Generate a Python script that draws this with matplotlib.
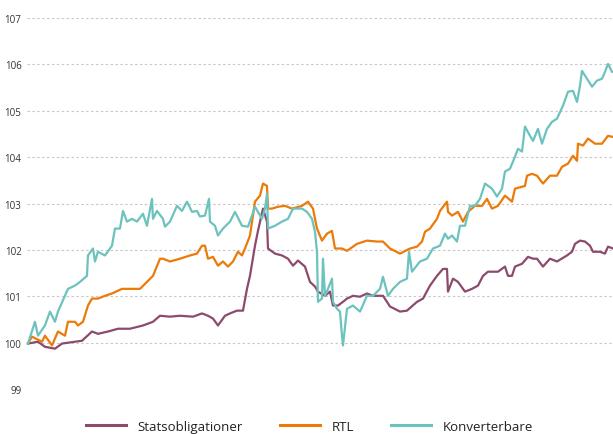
import matplotlib.pyplot as plt
import numpy as np

# trading day index and index level (start = 100)
stat_day = [0, 10, 17, 27, 34, 47, 54, 64, 70, 80, 90, 97, 102, 115, 125, 132, 142, 152, 165, 174,
            180, 185, 190, 197, 202, 209, 215, 219, 222, 227, 230, 235, 239, 240, 247, 254, 260, 265,
            270, 277, 282, 287, 290, 297, 302, 305, 310, 315, 319, 325, 332, 339, 345, 355, 362, 372,
            379, 389, 395, 402, 409, 415, 419, 420, 425, 430, 437, 444, 450, 455, 460, 470, 477, 480,
            484, 487, 494, 500, 505, 509, 515, 522, 529, 539, 544, 547, 552, 557, 562, 565, 572, 577,
            580, 585]
stat_val = [99.98, 100.02, 99.91, 99.87, 99.98, 100.02, 100.04, 100.24, 100.19, 100.24, 100.30, 100.30,
            100.30, 100.37, 100.45, 100.58, 100.56, 100.58, 100.56, 100.63, 100.58, 100.52, 100.37,
            100.58, 100.63, 100.69, 100.69, 101.16, 101.44, 102.09, 102.41, 102.89, 102.61, 102.03,
            101.92, 101.88, 101.81, 101.66, 101.77, 101.64, 101.31, 101.21, 101.10, 101.01, 101.10,
            100.80, 100.80, 100.88, 100.95, 101.01, 100.99, 101.06, 101.01, 101.01, 100.78, 100.67,
            100.69, 100.88, 100.95, 101.23, 101.44, 101.59, 101.59, 101.10, 101.38, 101.31, 101.10,
            101.16, 101.23, 101.44, 101.53, 101.53, 101.64, 101.44, 101.44, 101.64, 101.70, 101.85,
            101.81, 101.81, 101.64, 101.81, 101.75, 101.88, 101.96, 102.13, 102.20, 102.18, 102.09,
            101.96, 101.96, 101.92, 102.07, 102.03]

rtl_day = [0, 4, 14, 17, 24, 30, 37, 40, 47, 50, 55, 60, 64, 70, 77, 84, 94, 104, 112, 119, 125, 132,
           135, 142, 152, 162, 169, 174, 177, 180, 185, 190, 195, 200, 205, 210, 214, 217, 222, 227,
           232, 235, 239, 240, 244, 250, 257, 264, 274, 280, 285, 289, 294, 299, 304, 307, 314, 319,
           329, 339, 349, 355, 362, 372, 382, 389, 394, 397, 402, 409, 412, 419, 420, 424, 430, 435,
           440, 447, 454, 459, 464, 470, 477, 484, 487, 497, 499, 504, 509, 515, 522, 529, 534, 540,
           545, 549, 550, 555, 560, 567, 574, 580, 584]
rtl_val = [99.98, 100.13, 100.02, 100.15, 99.94, 100.24, 100.15, 100.45, 100.45, 100.37, 100.45,
           100.80, 100.95, 100.95, 101.01, 101.06, 101.16, 101.16, 101.16, 101.31, 101.44, 101.81,
           101.81, 101.75, 101.81, 101.88, 101.92, 102.09, 102.09, 101.81, 101.85, 101.66, 101.75,
           101.64, 101.75, 101.96, 101.88, 102.03, 102.31, 103.04, 103.17, 103.43, 103.38, 102.89,
           102.89, 102.93, 102.95, 102.89, 102.95, 103.04, 102.89, 102.46, 102.20, 102.35, 102.41,
           102.03, 102.03, 101.98, 102.13, 102.20, 102.18, 102.18, 102.03, 101.92, 102.03, 102.07,
           102.18, 102.39, 102.46, 102.67, 102.84, 103.04, 102.82, 102.74, 102.82, 102.61, 102.82,
           102.95, 102.95, 103.10, 102.89, 102.95, 103.17, 103.04, 103.32, 103.38, 103.60, 103.64,
           103.60, 103.43, 103.60, 103.60, 103.79, 103.86, 104.03, 103.92, 104.29, 104.25, 104.40,
           104.29, 104.29, 104.46, 104.44]

konv_day = [0, 7, 10, 17, 22, 27, 30, 40, 47, 52, 59, 60, 65, 67, 70, 77, 84, 87, 92, 95, 99, 104,
            109, 115, 119, 124, 125, 129, 135, 137, 142, 149, 154, 159, 164, 169, 172, 177, 181, 182,
            187, 190, 195, 202, 207, 214, 220, 224, 227, 230, 234, 237, 239, 240, 247, 254, 260, 265,
            274, 279, 284, 287, 289, 290, 294, 295, 297, 300, 304, 305, 309, 312, 314, 315, 319, 325,
            332, 339, 345, 352, 355, 360, 365, 372, 379, 381, 384, 392, 399, 405, 412, 417, 420, 424,
            429, 432, 437, 442, 447, 452, 457, 464, 469, 474, 477, 482, 487, 490, 494, 497, 502, 505,
            510, 514, 519, 524, 529, 535, 540, 545, 549, 552, 554, 559, 564, 569, 574, 577, 580, 584]
konv_val = [99.98, 100.45, 100.15, 100.37, 100.67, 100.45, 100.67, 101.16, 101.23, 101.31, 101.44,
            101.88, 102.03, 101.75, 101.96, 101.88, 102.09, 102.46, 102.46, 102.84, 102.61, 102.67,
            102.61, 102.78, 102.52, 103.10, 102.67, 102.84, 102.67, 102.50, 102.61, 102.95, 102.84,
            103.04, 102.82, 102.84, 102.72, 102.74, 103.10, 102.61, 102.52, 102.31, 102.46, 102.61,
            102.82, 102.52, 102.50, 102.74, 102.93, 102.82, 102.67, 102.89, 103.21, 102.46, 102.52,
            102.61, 102.67, 102.89, 102.89, 102.82, 102.67, 102.39, 101.96, 100.88, 100.95, 101.81,
            101.01, 101.16, 101.38, 100.88, 100.73, 100.67, 100.15, 99.94, 100.73, 100.80, 100.67,
            101.01, 101.01, 101.16, 101.42, 101.01, 101.16, 101.31, 101.38, 101.96, 101.53, 101.75,
            101.81, 102.03, 102.09, 102.35, 102.24, 102.31, 102.18, 102.52, 102.52, 102.95, 102.95,
            103.10, 103.43, 103.32, 103.15, 103.32, 103.69, 103.75, 104.01, 104.18, 104.12, 104.66,
            104.46, 104.35, 104.61, 104.29, 104.61, 104.76, 104.83, 105.11, 105.41, 105.43, 105.19,
            105.54, 105.86, 105.69, 105.52, 105.65, 105.69, 105.84, 106.01, 105.84]

yticks = [99, 100, 101, 102, 103, 104, 105, 106, 107]

fig = plt.figure(figsize=(6.13, 4.35), dpi=100)
ax = fig.add_axes([0.044, 0.1034, 0.956, 0.8529])

ax.plot(stat_day, stat_val, color='#8c4a6c', linewidth=1.6, label='Statsobligationer', clip_on=False)
ax.plot(rtl_day, rtl_val, color='#ec7a08', linewidth=1.6, label='RTL', clip_on=False)
ax.plot(konv_day, konv_val, color='#6cc3bd', linewidth=1.6, label='Konverterbare', clip_on=False)

ax.set_xlim(-1, 585)
ax.set_ylim(99, 107)
ax.set_yticks(yticks)
ax.set_xticks([])
ax.grid(axis='y', color='#c8c8c8', linestyle=(0, (2.2, 2.2)), linewidth=0.8)
ax.set_axisbelow(True)
for s in ax.spines.values():
    s.set_visible(False)
ax.tick_params(axis='y', length=0, pad=4, labelsize=7, labelcolor='#333333')
for lab in ax.get_yticklabels():
    lab.set_fontfamily('Open Sans')

leg = fig.legend(loc='lower center', bbox_to_anchor=(0.505, -0.025), ncol=3, frameon=False,
                 handlelength=3.0, handletextpad=0.9, columnspacing=2.8,
                 prop={'family': 'Open Sans', 'size': 9.5})
for line in leg.get_lines():
    line.set_linewidth(2.2)
for t in leg.get_texts():
    t.set_color('#222222')

fig.savefig('out.png', dpi=100)
